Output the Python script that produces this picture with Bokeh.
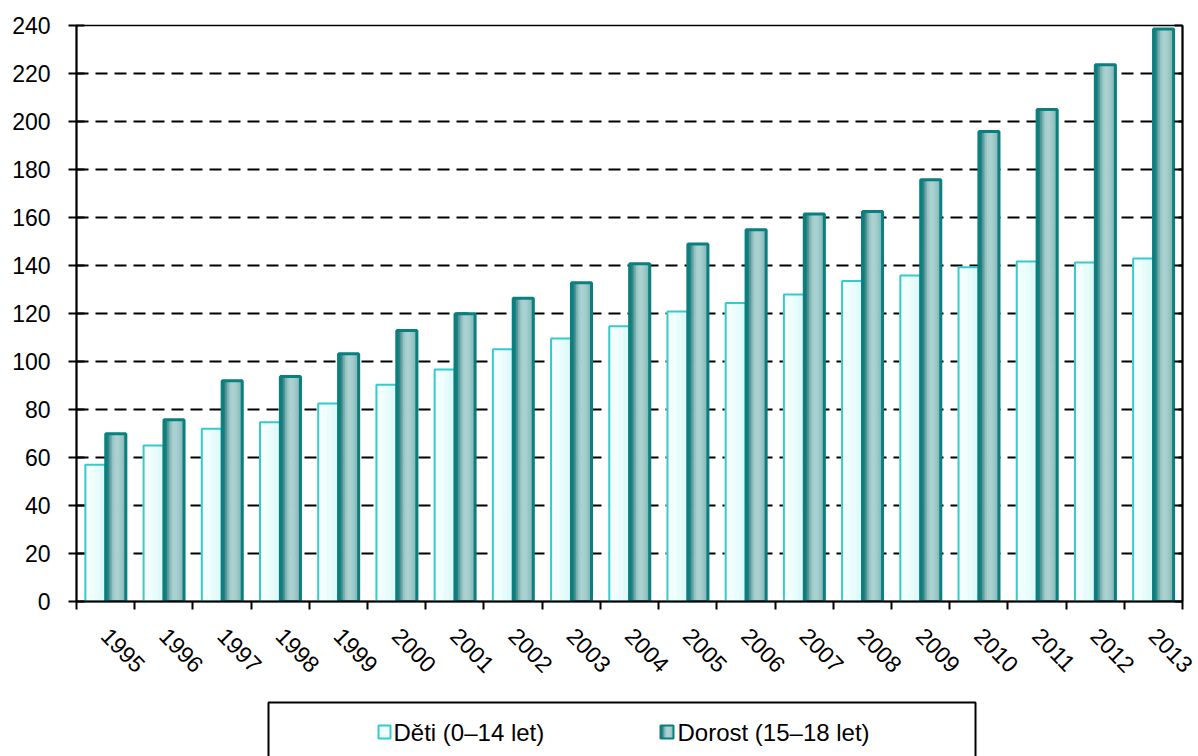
import numpy as np
from bokeh.plotting import figure
from bokeh.models import FixedTicker, LinearAxis, Range1d, ColumnDataSource
from bokeh.transform import dodge
from bokeh.layouts import column
from bokeh.core.properties import value
from bokeh.embed import file_html
from bokeh.resources import INLINE

years = [str(y) for y in range(1995, 2014)]
deti = [57, 65, 72, 74.7, 82.5, 90.3, 96.7, 105.1, 109.6, 114.7, 120.8,
        124.4, 127.9, 133.5, 135.8, 139.3, 141.7, 141.3, 142.9]
dorost = [69.9, 75.7, 92, 93.7, 103.2, 112.9, 119.9, 126.4, 132.8, 140.7, 149,
          154.9, 161.5, 162.5, 175.7, 195.8, 205, 223.6, 238.5]
y_ticks = list(range(0, 241, 20))
legend_labels = ["Děti (0–14 let)", "Dorost (15–18 let)"]

FONT = "Liberation Sans"
DETI_LINE = "#33cccc"
DETI_STRIPS = ["#f8ffff", "#f0fefe", "#e8fcfc", "#e0f9f9"]
DOR_LINE = "#0a7f7f"
DOR_STRIPS = ["#0c7878", "#287f7f", "#4f9696", "#7aafaf", "#96c3c3", "#a6cece",
              "#abd1d1", "#a9d0d0", "#a3cccc", "#9bc6c6", "#8fbebe", "#7fb3b3"]

n = len(years)
centers = [i + 0.5 for i in range(n)]
src = ColumnDataSource(dict(x=centers, deti=deti, dorost=dorost))

W = 1198
p = figure(width=W, height=698, output_backend="svg", toolbar_location=None,
           x_range=Range1d(0, n), y_range=Range1d(0, 240),
           min_border_left=76, min_border_right=16, min_border_top=25,
           min_border_bottom=97)
p.background_fill_color = "white"
p.outline_line_color = "black"
p.outline_line_width = 1.5

BW = 0.345
OFF = 0.175


def strips(center_off, colors, top):
    m = len(colors)
    sw = BW / m
    for k, c in enumerate(colors):
        off = center_off - BW / 2 + sw * (k + 0.5)
        p.vbar(x=dodge("x", off, range=p.x_range), top=top, width=sw * 1.4,
               source=src, fill_color=c, line_color=None)


strips(-OFF, DETI_STRIPS, "deti")
p.vbar(x=dodge("x", -OFF, range=p.x_range), top="deti", width=BW, source=src,
       fill_alpha=0, line_color=DETI_LINE, line_width=2)
strips(OFF, DOR_STRIPS, "dorost")
p.vbar(x=dodge("x", OFF, range=p.x_range), top="dorost", width=BW, source=src,
       fill_alpha=0, line_color=DOR_LINE, line_width=3)

# grid
p.xgrid.visible = False
p.ygrid.ticker = FixedTicker(ticks=y_ticks)
p.ygrid.grid_line_color = "black"
p.ygrid.grid_line_width = 2
p.ygrid.grid_line_dash = "12 7"

# x axis
xa = p.xaxis[0]
xa.ticker = FixedTicker(ticks=centers, minor_ticks=list(range(n + 1)))
xa.major_label_overrides = {c: y for c, y in zip(centers, years)}
xa.major_tick_in = 0
xa.major_tick_out = 0
xa.minor_tick_in = 0
xa.minor_tick_out = 8
xa.minor_tick_line_color = "black"
xa.minor_tick_line_width = 2
xa.axis_line_color = "black"
xa.axis_line_width = 2
xa.major_label_orientation = -0.8
xa.major_label_standoff = 22
xa.major_label_text_font = FONT
xa.major_label_text_font_size = "23px"
xa.major_label_text_color = "black"

# y axis
ya = p.yaxis[0]
ya.ticker = FixedTicker(ticks=y_ticks)
ya.minor_tick_line_color = None
ya.major_tick_in = 8
ya.major_tick_out = 8
ya.major_tick_line_width = 2
ya.major_tick_line_color = "black"
ya.axis_line_width = 2
ya.axis_line_color = "black"
ya.major_label_standoff = 18
ya.major_label_text_font = FONT
ya.major_label_text_font_size = "23px"
ya.major_label_text_color = "black"

ra = LinearAxis(ticker=FixedTicker(ticks=y_ticks))
ra.major_label_overrides = {t: "" for t in y_ticks}
ra.major_label_standoff = 0
ra.major_tick_in = 8
ra.major_tick_out = 0
ra.major_tick_line_width = 2
ra.minor_tick_line_color = None
ra.axis_line_width = 2
ra.axis_line_color = "black"
p.add_layout(ra, "right")

# legend panel (frame aligned with the main plot frame: x in page pixels)
lf = figure(width=W, height=58, output_backend="svg", toolbar_location=None,
            x_range=Range1d(76, 1182), y_range=Range1d(0, 58),
            x_axis_type=None, y_axis_type=None,
            min_border_left=76, min_border_right=16, min_border_top=0,
            min_border_bottom=0)
lf.outline_line_color = None
lf.xgrid.visible = False
lf.ygrid.visible = False
lf.quad(left=[268], right=[975], top=[54], bottom=[-6], fill_color="white",
        line_color="black", line_width=2)
lf.quad(left=[378], right=[390], top=[31], bottom=[18], fill_color=DETI_STRIPS[1],
        line_color=DETI_LINE, line_width=2)
lsw = 13 / len(DOR_STRIPS)
for k, c in enumerate(DOR_STRIPS):
    lf.quad(left=[660 + k * lsw], right=[660 + (k + 1) * lsw + 0.4], top=[31],
            bottom=[18], fill_color=c, line_color=None)
lf.quad(left=[660], right=[673], top=[31], bottom=[18], fill_alpha=0,
        line_color=DOR_LINE, line_width=2)
lf.text(x=[393, 677], y=[24, 24], text=legend_labels, text_font=value(FONT),
        text_font_size="24px", text_baseline="middle", text_align="left",
        text_color="black")

layout = column(p, lf, spacing=0)
open("out.html", "w").write(file_html(layout, INLINE))
